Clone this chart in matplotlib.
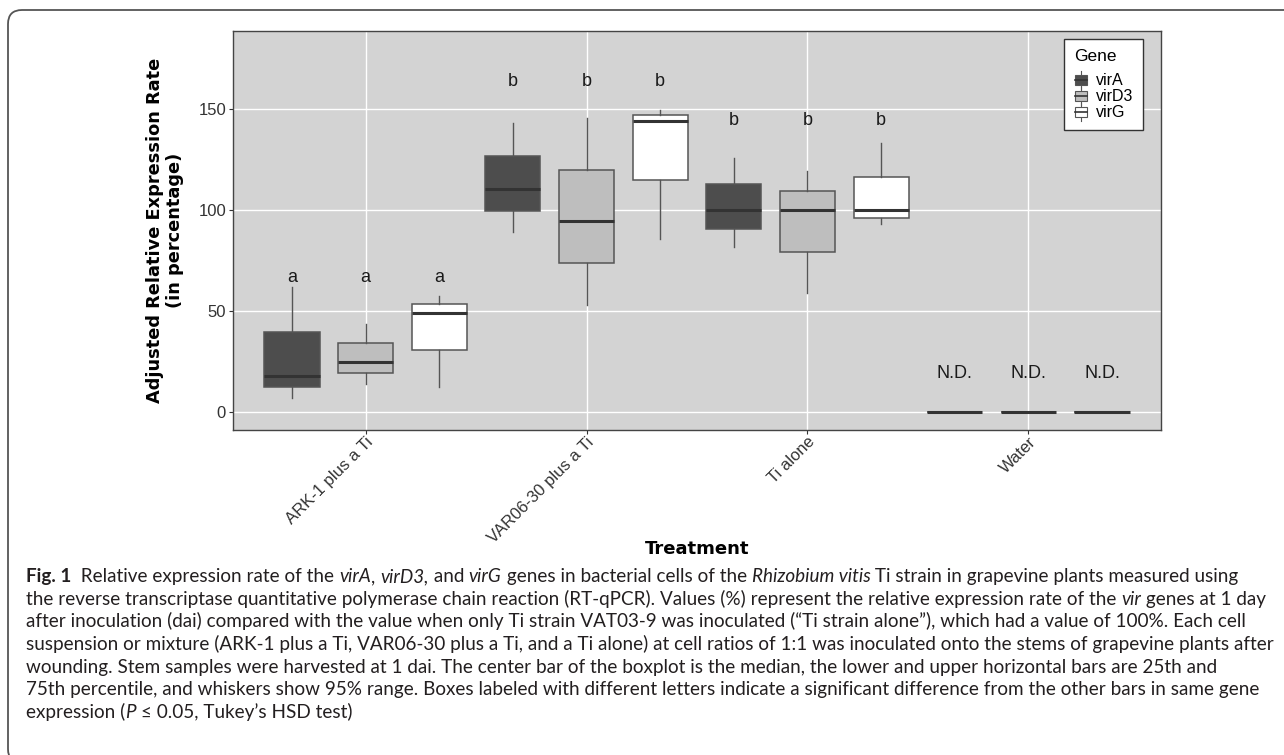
import numpy as np
import matplotlib
matplotlib.use("Agg")
import matplotlib.pyplot as plt
from matplotlib.patches import FancyBboxPatch, Rectangle
from matplotlib.lines import Line2D
from matplotlib.legend_handler import HandlerBase
from matplotlib.transforms import IdentityTransform

# ---- data ----
treatments = ["ARK-1 plus a Ti", "VAR06-30 plus a Ti", "Ti alone", "Water"]
genes = ["virA", "virD3", "virG"]
gene_fill = ["#4d4d4d", "#bebebe", "#ffffff"]

# whisker low, Q1, median, Q3, whisker high per treatment
virA_low = [7.3, 89.4, 82.0, 0.0]
virA_q1 = [12.6, 99.8, 90.8, 0.0]
virA_med = [18.0, 110.4, 100.0, 0.0]
virA_q3 = [40.0, 127.1, 113.2, 0.0]
virA_high = [62.0, 143.4, 125.9, 0.0]

virD3_low = [14.0, 53.1, 59.2, 0.0]
virD3_q1 = [19.5, 73.8, 79.4, 0.0]
virD3_med = [25.1, 94.9, 100.0, 0.0]
virD3_q3 = [34.5, 120.1, 109.7, 0.0]
virD3_high = [43.7, 145.5, 119.5, 0.0]

virG_low = [12.5, 86.0, 93.1, 0.0]
virG_q1 = [30.9, 115.0, 96.4, 0.0]
virG_med = [49.0, 144.4, 100.0, 0.0]
virG_q3 = [53.5, 147.2, 116.7, 0.0]
virG_high = [57.6, 149.8, 133.2, 0.0]

group_letters = ["a", "b", "b", "N.D."]
letter_height = [67.0, 164.0, 144.4, 19.3]

summaries = [
    (virA_low, virA_q1, virA_med, virA_q3, virA_high),
    (virD3_low, virD3_q1, virD3_med, virD3_q3, virD3_high),
    (virG_low, virG_q1, virG_med, virG_q3, virG_high),
]

W, H = 1284, 755
fig = plt.figure(figsize=(W / 100, H / 100), dpi=100)
fig.patch.set_facecolor("white")

# rounded outer frame (cut off on the right and bottom like the journal page)
frame = FancyBboxPatch((8, -8), 1320, 753, boxstyle="round,pad=0,rounding_size=14",
                       transform=IdentityTransform(), facecolor="none",
                       edgecolor="#555555", linewidth=1.3)
fig.add_artist(frame)

ax = fig.add_axes([233 / W, 1 - 429.5 / H, (1161 - 233) / W, (429.5 - 31) / H])
ax.set_facecolor("#d3d3d3")
ax.set_axisbelow(True)
ax.grid(True, color="white", linewidth=1.0)

positions = np.arange(1, len(treatments) + 1)
offsets = [-1 / 3, 0, 1 / 3]
box_w = 0.25

for g, (lo, q1, med, q3, hi) in enumerate(summaries):
    stats = []
    for i in range(len(treatments)):
        stats.append(dict(whislo=lo[i], q1=q1[i], med=med[i], q3=q3[i], whishi=hi[i], fliers=[]))
    ax.bxp(stats, positions=positions + offsets[g], widths=box_w, patch_artist=True,
           showfliers=False, showcaps=False, manage_ticks=False,
           boxprops=dict(facecolor=gene_fill[g], edgecolor="#555555", linewidth=1.1),
           medianprops=dict(color="#333333", linewidth=2.2, solid_capstyle="butt"),
           whiskerprops=dict(color="#555555", linewidth=1.0))

for i in range(len(treatments)):
    for g in range(len(genes)):
        ax.text(positions[i] + offsets[g], letter_height[i], group_letters[i],
                ha="center", va="center", fontsize=13, family="Liberation Sans", color="#1a1a1a")

ax.set_xlim(0.4, 4.6)
ax.set_ylim(-8.5, 188.8)
ax.set_yticks([0, 50, 100, 150])
ax.set_xticks(positions)
ax.set_xticklabels(treatments, rotation=45, ha="right", rotation_mode="anchor",
                   family="Liberation Sans", fontsize=12, color="#333333")
for lab in ax.get_yticklabels():
    lab.set_family("Liberation Sans")
    lab.set_fontsize(12)
    lab.set_color("#333333")
ax.tick_params(length=3, width=0.8, color="#333333", pad=2)
ax.tick_params(axis="x", pad=0.5)
for sp in ax.spines.values():
    sp.set_color("#444444")
    sp.set_linewidth(1.0)


class BoxKey(HandlerBase):
    def create_artists(self, legend, orig_handle, xdescent, ydescent, width, height, fontsize, trans):
        fc = orig_handle.get_facecolor()
        cx = width / 2 - xdescent
        bw = 9
        bh = height * 0.72
        by = -ydescent + (height - bh) / 2
        rect = Rectangle((cx - bw / 2, by), bw, bh, facecolor=fc, edgecolor="#555555",
                         linewidth=0.8, transform=trans)
        med = Line2D([cx - bw / 2, cx + bw / 2], [by + bh / 2] * 2, color="#333333",
                     linewidth=1.2, transform=trans)
        wl = Line2D([cx, cx], [by - 3, by], color="#555555", linewidth=0.8, transform=trans)
        wh = Line2D([cx, cx], [by + bh, by + bh + 3], color="#555555", linewidth=0.8, transform=trans)
        return [wl, wh, rect, med]


handles = [Rectangle((0, 0), 1, 1, facecolor=c) for c in gene_fill]
leg = ax.legend(handles, genes, title="Gene", handler_map={Rectangle: BoxKey()},
                loc="upper right", bbox_to_anchor=(1143 / W, 1 - 39 / H),
                bbox_transform=fig.transFigure, borderaxespad=0, frameon=True,
                fancybox=False, edgecolor="#333333", facecolor="white", framealpha=1,
                prop=dict(family="Liberation Sans", size=11.5),
                title_fontproperties=dict(family="Liberation Sans", size=12.5),
                handlelength=0.9, handleheight=0.9, handletextpad=0.5,
                labelspacing=0.05, borderpad=0.6, alignment="left")
leg.get_frame().set_linewidth(1.0)
leg._legend_box.sep = 7

fig.text(165 / W, 1 - 230 / H, "Adjusted Relative Expression Rate\n(in percentage)",
         rotation=90, ha="center", va="center", multialignment="center",
         fontsize=12.8, fontweight="bold", family="DejaVu Sans", linespacing=1.15)
fig.text(697 / W, 1 - 549 / H, "Treatment", ha="center", va="center",
         fontsize=13, fontweight="bold", family="DejaVu Sans")

# ---- caption ----
N, I, B = "normal", "italic", "bold"
caption = [
    [("Fig. 1", B), ("  Relative expression rate of the ", N), ("virA", I), (", ", N), ("virD3,", I),
     (" and ", N), ("virG", I), (" genes in bacterial cells of the ", N), ("Rhizobium vitis", I),
     (" Ti strain in grapevine plants measured using", N)],
    [("the reverse transcriptase quantitative polymerase chain reaction (RT-qPCR). Values (%) represent "
      "the relative expression rate of the ", N), ("vir", I), (" genes at 1 day", N)],
    [("after inoculation (dai) compared with the value when only Ti strain VAT03-9 was inoculated "
      "(\u201cTi strain alone\u201d), which had a value of 100%. Each cell", N)],
    [("suspension or mixture (ARK-1 plus a Ti, VAR06-30 plus a Ti, and a Ti alone) at cell ratios of "
      "1:1 was inoculated onto the stems of grapevine plants after", N)],
    [("wounding. Stem samples were harvested at 1 dai. The center bar of the boxplot is the median, "
      "the lower and upper horizontal bars are 25th and", N)],
    [("75th percentile, and whiskers show 95% range. Boxes labeled with different letters indicate a "
      "significant difference from the other bars in same gene", N)],
    [("expression (", N), ("P", I), (" \u2264 0.05, Tukey\u2019s HSD test)", N)],
]
cap_family = "Lato"
renderer = fig.canvas.get_renderer()


def seg_width(txt, style, size):
    kw = dict(fontsize=size, family=cap_family)
    if style == B:
        kw["fontweight"] = "bold"
    if style == I:
        kw["fontstyle"] = "italic"
    t1 = fig.text(0, 0, "|" + txt + "|", **kw)
    t2 = fig.text(0, 0, "||", **kw)
    w = t1.get_window_extent(renderer).width - t2.get_window_extent(renderer).width
    t1.remove()
    t2.remove()
    return w, kw


ref_size = 14
widths = [sum(seg_width(t, s, ref_size)[0] for t, s in line) for line in caption]
cap_size = ref_size * 1246 / max(widths)

for k, line in enumerate(caption):
    x = 26
    y = H - (582 + 22.7 * k)
    for txt, style in line:
        w, kw = seg_width(txt, style, cap_size)
        fig.text(x / W, y / H, txt, ha="left", va="baseline", color="#231f20", **kw)
        x += w

fig.savefig("out.png", dpi=100)
